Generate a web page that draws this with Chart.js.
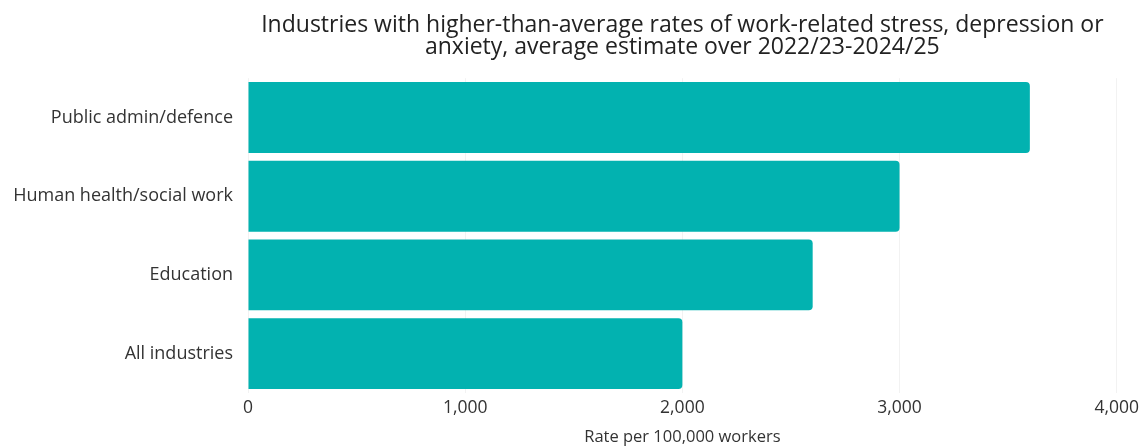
<!DOCTYPE html>
<html>
<head>
<meta charset="utf-8">
<script src="https://cdn.jsdelivr.net/npm/chart.js@4/dist/chart.umd.min.js"></script>
<style>
html,body{margin:0;padding:0;background:#fff;}
#wrap{width:1144px;height:447px;}
</style>
</head>
<body>
<div id="wrap"><canvas id="c" width="1144" height="447"></canvas></div>
<script>
const categories = ["Public admin/defence", "Human health/social work", "Education", "All industries"];
const rates = [3600, 3000, 2600, 2000];
const xTicks = [0, 1000, 2000, 3000, 4000];
const titleLines = ["Industries with higher-than-average rates of work-related stress, depression or", "anxiety, average estimate over 2022/23-2024/25"];
const xAxisTitle = "Rate per 100,000 workers";

new Chart(document.getElementById('c'), {
  type: 'bar',
  data: {
    labels: categories,
    datasets: [{
      data: rates,
      backgroundColor: '#02B2B0',
      borderWidth: 0,
      borderRadius: {topRight: 4, bottomRight: 4, topLeft: 0, bottomLeft: 0},
      borderSkipped: false,
      categoryPercentage: 0.9,
      barPercentage: 1.0
    }]
  },
  options: {
    indexAxis: 'y',
    responsive: false,
    animation: false,
    layout: {padding: {left: 0, right: 27, top: 0, bottom: 0}},
    plugins: {
      legend: {display: false},
      tooltip: {enabled: false},
      title: {
        display: true,
        text: titleLines,
        fullSize: false,
        color: '#222',
        font: {family: 'Open Sans', size: 23, weight: 'normal', lineHeight: 0.96},
        padding: {top: 14, bottom: 20}
      }
    },
    scales: {
      x: {
        min: 0, max: 4000,
        afterBuildTicks: (s) => { s.ticks = xTicks.map(v => ({value: v})); },
        afterFit: (s) => { s.height = 54; },
        ticks: {
          color: '#333',
          font: {family: 'Open Sans', size: 17.5},
          padding: 5,
          maxRotation: 0,
          callback: (v) => Number(v).toLocaleString('en-GB')
        },
        grid: {color: '#f2f2f2', drawTicks: false},
        border: {display: false},
        title: {
          display: true,
          text: xAxisTitle,
          color: '#333',
          font: {family: 'Open Sans', size: 16.5},
          padding: {top: 2, bottom: 0}
        }
      },
      y: {
        afterFit: (s) => { s.width = 248; },
        ticks: {
          color: '#333',
          font: {family: 'Open Sans', size: 18},
          padding: 15
        },
        grid: {display: false, drawTicks: false},
        border: {display: false}
      }
    }
  }
});
</script>
</body>
</html>
